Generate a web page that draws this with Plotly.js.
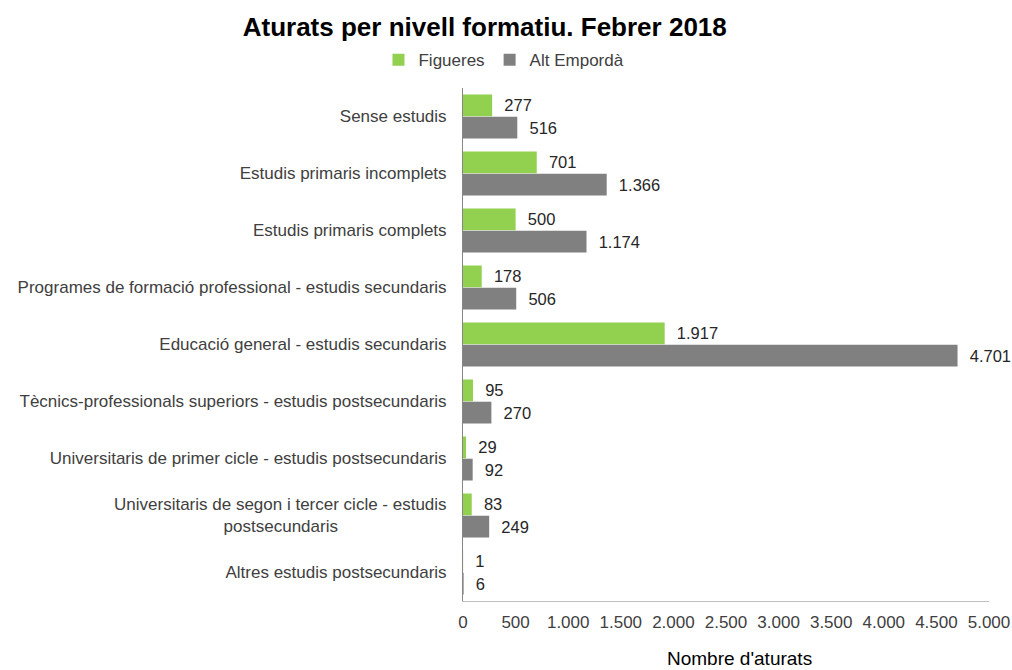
<!DOCTYPE html>
<html>
<head>
<meta charset="utf-8">
<script src="https://cdn.plot.ly/plotly-3.0.1.min.js"></script>
<style>
  html, body { margin: 0; padding: 0; background: #fff; }
  #chart { width: 1012px; height: 670px; }
</style>
</head>
<body>
<div id="chart"></div>
<script>
const nbsp = '\u00a0';
const categories = [
    'Sense estudis',
    'Estudis primaris incomplets',
    'Estudis primaris complets',
    'Programes de formació professional - estudis secundaris',
    'Educació general - estudis secundaris',
    'Tècnics-professionals superiors - estudis postsecundaris',
    'Universitaris de primer cicle - estudis postsecundaris',
    'Universitaris de segon i tercer cicle - estudis<br>postsecundaris' + nbsp.repeat(23),
    'Altres estudis postsecundaris'
];
const figueres = [277, 701, 500, 178, 1917, 95, 29, 83, 1];
const altEmporda = [516, 1366, 1174, 506, 4701, 270, 92, 249, 6];
const xTicks = [0, 500, 1000, 1500, 2000, 2500, 3000, 3500, 4000, 4500, 5000];

const labelFont = { family: 'Liberation Sans, Arial, sans-serif', size: 16.5, color: '#262626' };

const traceFigueres = {
    y: categories,
    x: figueres,
    type: 'bar',
    orientation: 'h',
    name: 'Figueres',
    marker: { color: '#92d050' },
    texttemplate: nbsp + nbsp + '%{x:,}',
    textposition: 'outside',
    textfont: labelFont,
    constraintext: 'none',
    cliponaxis: false
};

const traceAltEmporda = {
    y: categories,
    x: altEmporda,
    type: 'bar',
    orientation: 'h',
    name: 'Alt Empordà',
    marker: { color: '#808080' },
    texttemplate: nbsp + nbsp + '%{x:,}',
    textposition: 'outside',
    textfont: labelFont,
    constraintext: 'none',
    cliponaxis: false
};

const layout = {
    width: 1012,
    height: 670,
    margin: { l: 463, r: 23, t: 88, b: 69 },
    paper_bgcolor: '#ffffff',
    plot_bgcolor: '#ffffff',
    separators: ',.',
    font: { family: 'Liberation Sans, Arial, sans-serif', size: 17, color: '#404040' },
    title: {
        text: '<b>Aturats per nivell formatiu. Febrer 2018</b>',
        font: { size: 26, color: '#000000' },
        x: 0.479,
        xanchor: 'center',
        y: 0.96,
        yanchor: 'middle'
    },
    legend: {
        orientation: 'h',
        xref: 'container',
        yref: 'container',
        x: 0.498,
        xanchor: 'center',
        y: 0.91,
        yanchor: 'middle',
        font: { size: 17, color: '#404040' },
        itemwidth: 30,
        traceorder: 'normal'
    },
    barmode: 'group',
    bargap: 0.22,
    bargroupgap: 0.02,
    xaxis: {
        range: [0, 5000],
        tickvals: xTicks,
        separatethousands: true,
        showgrid: false,
        zeroline: false,
        showline: true,
        linecolor: '#bfbfbf',
        linewidth: 1,
        ticks: '',
        ticklabelstandoff: 6,
        tickfont: { size: 17, color: '#404040' }
    },
    yaxis: {
        type: 'category',
        autorange: 'reversed',
        showgrid: false,
        zeroline: false,
        showline: true,
        linecolor: '#868686',
        linewidth: 1,
        ticks: '',
        ticklabelstandoff: 12,
        tickfont: { size: 17, color: '#404040' }
    },
    // axis title placed as an annotation, it sits a bit right of the plot centre
    annotations: [{
        text: "Nombre d'aturats",
        xref: 'paper',
        yref: 'paper',
        x: 0.526,
        y: -0.112,
        xanchor: 'center',
        yanchor: 'middle',
        showarrow: false,
        font: { size: 19, color: '#000000' }
    }],
    showlegend: true
};

Plotly.newPlot('chart', [traceFigueres, traceAltEmporda], layout, { displayModeBar: false, staticPlot: true });
</script>
</body>
</html>
